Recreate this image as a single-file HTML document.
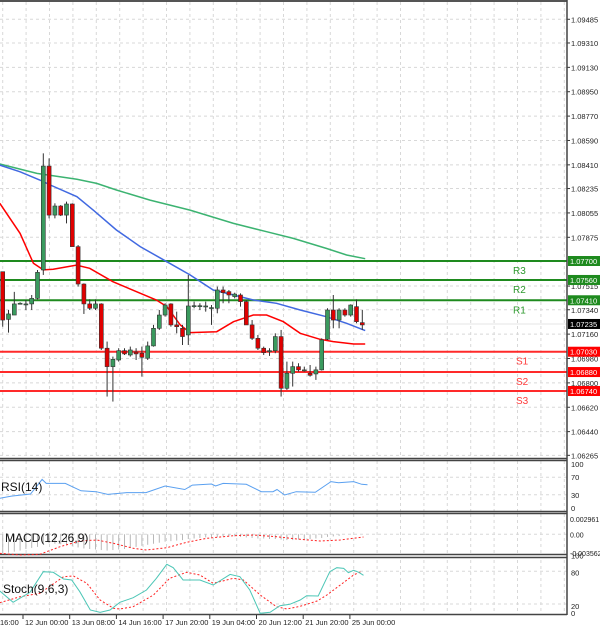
<!DOCTYPE html>
<html><head><meta charset="utf-8"><style>
html,body{margin:0;padding:0;background:#fff;width:600px;height:630px;overflow:hidden}
svg{display:block;font-family:"Liberation Sans",sans-serif}
</style></head><body>
<svg id="c" width="600" height="630" viewBox="0 0 600 630"></svg>
<script>
// ---- DATA ----
const opens=[1.07621,1.07269,1.07301,1.07388,1.07383,1.07383,1.07424,1.07634,1.08401,1.08039,1.08106,1.08039,1.08121,1.07806,1.0753,1.07383,1.07351,1.07383,1.07056,1.0692,1.06969,1.07038,1.07006,1.07028,1.07019,1.06982,1.07073,1.07203,1.07301,1.07383,1.07228,1.07203,1.07154,1.0737,1.0737,1.07368,1.07356,1.07351,1.07486,1.07474,1.07437,1.07449,1.074,1.07228,1.07129,1.07056,1.07038,1.07038,1.07142,1.0676,1.06871,1.0692,1.06896,1.06871,1.06866,1.06896,1.07122,1.07338,1.07264,1.07338,1.07301,1.07363,1.07245];
const highs=[1.07621,1.07338,1.07472,1.07395,1.07412,1.07449,1.07634,1.08495,1.08458,1.08126,1.08113,1.08138,1.08126,1.07818,1.07535,1.07417,1.07417,1.07388,1.07105,1.06994,1.07056,1.07056,1.07068,1.07056,1.07068,1.07105,1.07228,1.07338,1.07388,1.07388,1.07326,1.07228,1.07597,1.074,1.07388,1.074,1.07375,1.07511,1.07511,1.07486,1.07466,1.07461,1.07412,1.07264,1.07154,1.07068,1.07056,1.07166,1.07191,1.06957,1.06957,1.06945,1.0692,1.06932,1.0692,1.07129,1.07351,1.07449,1.07351,1.07351,1.0738,1.07417,1.07338];
const lows=[1.07215,1.07171,1.07301,1.0738,1.07338,1.07338,1.07417,1.07597,1.08015,1.08015,1.08032,1.07978,1.07806,1.07511,1.07309,1.07338,1.07338,1.07043,1.06699,1.06662,1.06957,1.07006,1.06994,1.06969,1.06846,1.06969,1.07068,1.07191,1.07289,1.07215,1.07166,1.0708,1.0708,1.07351,1.07338,1.07326,1.07228,1.07314,1.07388,1.07388,1.07424,1.07363,1.07228,1.07117,1.07043,1.07006,1.06999,1.07019,1.06699,1.06748,1.06773,1.06883,1.06883,1.06846,1.06822,1.06891,1.07117,1.07203,1.07203,1.07289,1.07289,1.0724,1.07191];
const closes=[1.07264,1.07309,1.07383,1.07388,1.07383,1.07424,1.07616,1.08401,1.08039,1.08106,1.08039,1.08121,1.07806,1.0753,1.07383,1.07351,1.07383,1.07056,1.0692,1.06974,1.07038,1.07014,1.07043,1.07014,1.06989,1.07073,1.07203,1.07301,1.07375,1.07228,1.07215,1.07142,1.07368,1.0737,1.0737,1.07368,1.07356,1.07486,1.07466,1.07449,1.07456,1.074,1.07228,1.07129,1.07056,1.07023,1.07038,1.07142,1.0676,1.06871,1.0692,1.06896,1.06896,1.06856,1.06896,1.07117,1.07338,1.07264,1.07338,1.07301,1.07375,1.07252,1.07228];
const maRedIdx=[-0.5,3,5.3,7,8.7,12.7,15,19,26.5,28.3,30.6,32.3,36.9,39.8,43.2,45.5,48.4,51.3,54.7,57,60.5,62.5];
const maRedVal=[1.08126,1.07904,1.07683,1.07634,1.07639,1.0767,1.07646,1.07547,1.07412,1.07363,1.07228,1.07171,1.07178,1.07252,1.07301,1.07301,1.07252,1.07166,1.07122,1.07105,1.07087,1.07087];
const maBlueIdx=[-0.5,3,6.4,8.2,12.8,15.6,19.6,23.7,28.3,32.3,36.3,39.8,43.2,47.2,51.3,55.8,59.3,62.5];
const maBlueVal=[1.08408,1.08359,1.08298,1.08261,1.08175,1.08076,1.07929,1.07806,1.07695,1.07597,1.07486,1.07449,1.07412,1.07388,1.07338,1.07289,1.0724,1.07186];
const maGreenIdx=[-0.5,5.9,12.8,16.2,19.6,25.4,32.3,39.8,45.5,50.1,55.8,59.3,62.5];
const maGreenVal=[1.08416,1.08347,1.08303,1.08273,1.08224,1.0815,1.08076,1.07978,1.07916,1.07867,1.07793,1.07744,1.07717];
const priceTicks=["1.09485","1.09310","1.09130","1.08950","1.08770","1.08590","1.08410","1.08235","1.08055","1.07875","1.07515","1.07340","1.07160","1.06980","1.06800","1.06620","1.06440","1.06265"];
const levelNames=["R3","R2","R1","S1","S2","S3"];
const levelVals=[1.077,1.0756,1.0741,1.0703,1.0688,1.0674];
const currentPrice=1.07235;
const rsiIdx=[-0.5,1.5,4.8,6.8,7.5,10.8,13.5,16.1,18.1,21.4,24.7,28,31.4,32.7,36,36.7,38,42,44.6,46.6,47.3,48.6,50.6,53.9,56.6,57.9,60.5,61.9,62.9];
const rsiVal=[22,27,31.8,65,56,56,39,37,31,35,35,50,42,52,54.5,50,56,53.8,37,37,42,29.5,37,35.6,60,57.6,60,53.8,53];
const macdHist=[-0.0036,-0.0035,-0.0033,-0.0031,-0.0028,-0.0026,-0.0024,-0.0018,-0.0017,-0.0018,-0.0019,-0.002,-0.0022,-0.0025,-0.0027,-0.0028,-0.0029,-0.003,-0.0031,-0.003,-0.0029,-0.0028,-0.0026,-0.0024,-0.0022,-0.002,-0.0018,-0.0016,-0.0014,-0.0013,-0.0012,-0.0011,-0.0009,-0.0008,-0.0007,-0.0006,-0.0006,-0.0005,-0.0004,-0.0004,-0.0004,-0.0005,-0.0006,-0.0007,-0.0008,-0.0008,-0.0009,-0.0009,-0.001,-0.0011,-0.0011,-0.001,-0.001,-0.0009,-0.0008,-0.0007,-0.0005,-0.0004,-0.0003];
const macdSigIdx=[-0.5,3,6.4,9.9,13.3,16.2,19.1,22.5,24.8,28.3,31.7,35.2,39.8,43.2,47.2,50.7,54.7,58.2,62.2];
const macdSigVal=[-0.00362,-0.00394,-0.00381,-0.00236,-0.00128,-0.00109,-0.00171,-0.00267,-0.00299,-0.00255,-0.00152,-0.00076,-0.00027,-0.00013,-0.00046,-0.0009,-0.00128,-0.00109,-0.00051];
const stMainIdx=[-0.5,1.8,4.7,7,8.7,10.5,11.9,13.3,15.1,16.8,18.5,20.2,22.5,24.8,26.5,28.3,29.4,31.1,34,36.3,39.2,40.9,42.6,44.4,46.1,47.8,49.5,51.3,52.4,54.4,56.4,57.6,58.8,59.6,60.5,61.4,62.2];
const stMainVal=[43.9,23.1,41.4,79.3,78.1,65.9,64,42.6,9,4.7,9,23.1,31.6,45.7,67.1,92.8,86.6,64,64,54.9,74.4,70.1,45.7,2.9,4.7,16.9,19.4,27.3,35.3,34.7,79.3,86.6,85.4,77.5,81.8,78.1,72.6];
const stSigIdx=[-0.5,3,6.4,10.5,12.2,14.5,16.8,19.1,20.2,22.5,26,28.8,31.7,34,36.3,39.8,41.5,44.4,47.2,49,51.3,54.2,55.9,58.2,60.5,61.7];
const stSigVal=[22.4,33.4,39.6,70.1,71.4,57.9,27.3,12.1,10.8,15.1,36.5,67.1,78.1,73.2,57.9,67.1,64,36.5,15.1,10.8,15.7,25.5,36.5,54.9,73.2,79.3];
const timeLabels=["16:00","12 Jun 00:00","13 Jun 08:00","14 Jun 16:00","17 Jun 20:00","19 Jun 04:00","20 Jun 12:00","21 Jun 20:00","25 Jun 00:00"];

// ---- SCALES ----
const X=i=>2.7+i*5.8;
const Y=p=>261-(p-1.077)*13542;
const YR=r=>508-r*0.44;
const YM=m=>534.3-m*5250;
const YS=s=>614.9-s*0.545;
const R=567;
const svg=document.getElementById('c');
const NS='http://www.w3.org/2000/svg';
function mk(tag,attrs,parent){const e=document.createElementNS(NS,tag);for(const k in attrs)e.setAttribute(k,attrs[k]);(parent||svg).appendChild(e);return e;}

// grid
const grid=mk('g',{});


for(let x=2.7;x<R;x+=23.4){
  for(const [a,b] of [[2,458],[461,511],[514,553],[560,614]]) mk('line',{x1:x,x2:x,y1:a,y2:b,stroke:'#d8d8d8','stroke-dasharray':'3,3','stroke-width':1},grid);
}
priceTicks.forEach(t=>{const y=Y(parseFloat(t));mk('line',{x1:0,x2:R,y1:y,y2:y,stroke:'#d8d8d8','stroke-dasharray':'3,3'},grid);});
[70,30].forEach(v=>mk('line',{x1:0,x2:R,y1:YR(v),y2:YR(v),stroke:'#d8d8d8','stroke-dasharray':'3,3'},grid));
mk('line',{x1:0,x2:R,y1:YM(0),y2:YM(0),stroke:'#d8d8d8','stroke-dasharray':'3,3'},grid);
[80,20].forEach(v=>mk('line',{x1:0,x2:R,y1:YS(v),y2:YS(v),stroke:'#d8d8d8','stroke-dasharray':'3,3'},grid));

// price axis labels
priceTicks.forEach(t=>{const y=Y(parseFloat(t));
  mk('line',{x1:R,x2:R+3,y1:y,y2:y,stroke:'#333'});
  const tx=mk('text',{x:571,y:y+3,'font-size':7.5,fill:'#222'});tx.textContent=t;
  
  
});

// pivot levels
levelVals.forEach((v,i)=>{
  const res=i<3;const col=res?'#1e8a1e':'#ff2a2a';const y=Y(v);
  const ln=mk('line',{x1:0,x2:R,y1:y,y2:y,stroke:col,'stroke-width':2});
  
  
  const tl=mk('text',{x:res?513:516,y:y+13,'font-size':10,fill:res?'#2e9a2e':'#ff3b3b'});tl.textContent=levelNames[i];
  
  
  mk('rect',{x:R+1,y:y-5,width:32,height:10,fill:res?'#1e8a1e':'#f00'});
  const bt=mk('text',{x:570,y:y+3,'font-size':7.5,fill:'#fff'});bt.textContent=v.toFixed(5);
  
  
});
// current price
mk('line',{x1:0,x2:R,y1:Y(currentPrice),y2:Y(currentPrice),stroke:'#e4e4e4','stroke-width':1});
mk('rect',{x:R+1,y:Y(currentPrice)-5,width:32,height:10,fill:'#000'});
const cp=mk('text',{x:570,y:Y(currentPrice)+3,'font-size':7.5,fill:'#fff'});cp.textContent=currentPrice.toFixed(5);



// moving averages
function line(idx,val,ys,col,w,dash,name){
  const pts=idx.map((i,k)=>X(i).toFixed(1)+','+ys(val[k]).toFixed(1)).join(' ');
  const p=mk('polyline',{points:pts,fill:'none',stroke:col,'stroke-width':w});
  if(dash)p.setAttribute('stroke-dasharray',dash);
  
  
}
line(maGreenIdx,maGreenVal,Y,'#3cb371',1.5,null,'ma-green');
line(maBlueIdx,maBlueVal,Y,'#4169e1',1.5,null,'ma-blue');
line(maRedIdx,maRedVal,Y,'#ff0000',1.5,null,'ma-red');

// candles
const cg=mk('g',{});


opens.forEach((o,i)=>{
  const c=closes[i],x=X(i);
  mk('line',{x1:x,x2:x,y1:Y(highs[i]),y2:Y(lows[i]),stroke:'#333','stroke-width':1},cg);
  const top=Y(Math.max(o,c)),bot=Y(Math.min(o,c));
  const r=mk('rect',{x:x-2,y:top,width:4,height:Math.max(1,bot-top),fill:c>=o?'#3a9a5e':'#e00000',stroke:'#333','stroke-width':0.6},cg);
  
  
});

// panel borders
mk('line',{x1:0,x2:R,y1:1,y2:1,stroke:'#555','stroke-width':2});
[[458.5,460.5],[511.5,513.5],[554.5,557.5],[614.5]].forEach(a=>a.forEach(y=>mk('line',{x1:0,x2:R,y1:y,y2:y,stroke:'#444','stroke-width':1.5})));
mk('line',{x1:R,x2:R,y1:0,y2:615,stroke:'#444','stroke-width':1.5});

// RSI
line(rsiIdx,rsiVal,YR,'#5aa0f0',1,null,'rsi-line');
const rl=mk('text',{x:1,y:491,'font-size':12,fill:'#111'});rl.textContent='RSI(14)';


[[100,'100'],[70,'70'],[30,'30'],[0,'0']].forEach(([v,t])=>{const tx=mk('text',{x:571,y:YR(v)+3,'font-size':7.5,fill:'#222'});tx.textContent=t;});

// MACD
macdHist.forEach((m,i)=>{const b=mk('line',{x1:X(i),x2:X(i),y1:YM(0),y2:YM(m),stroke:'#b8b8b8','stroke-width':1});
  
  });
line(macdSigIdx,macdSigVal,YM,'#ff2020',1,'2,2','macd-signal');
const ml=mk('text',{x:5,y:542,'font-size':12,fill:'#111'});ml.textContent='MACD(12,26,9)';


[[0.002961,'0.002961'],[0,'0.00'],[-0.003562,'-0.003562']].forEach(([v,t])=>{const tx=mk('text',{x:570,y:YM(v)+3,'font-size':7,fill:'#222'});tx.textContent=t;});

// Stoch
line(stSigIdx,stSigVal,YS,'#ff2020',1,'2,2','stoch-signal');
line(stMainIdx,stMainVal,YS,'#4cc6b6',1,null,'stoch-main');
const sl=mk('text',{x:3,y:593,'font-size':12,fill:'#111'});sl.textContent='Stoch(9,6,3)';


[[100,'100',-5],[80,'80',1],[20,'20',2],[0,'0',-2]].forEach(([v,t,d])=>{const tx=mk('text',{x:571,y:YS(v)+3+d,'font-size':7.5,fill:'#222'});tx.textContent=t;});

// time axis
timeLabels.forEach((t,i)=>{
  const x=i===0?0:25+(i-1)*46.7;
  if(i>0)mk('line',{x1:x-2,x2:x-2,y1:615,y2:619,stroke:'#333'});
  const tx=mk('text',{x:x,y:625,'font-size':7.5,fill:'#222'});tx.textContent=t;
  
  
});
</script>
</body></html>
